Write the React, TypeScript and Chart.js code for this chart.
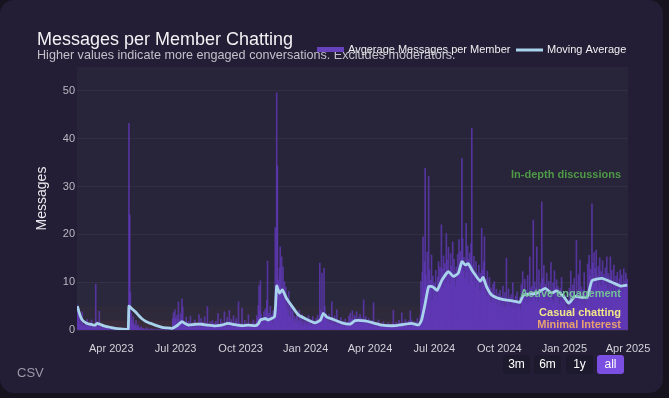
import React, { useEffect, useRef } from 'react';
import { Chart, registerables } from 'chart.js';
Chart.register(...registerables);

const FONT = '"Liberation Sans", Arial, Helvetica, sans-serif';

// x axis: day index, day 0 = 2023-02-12
const tickDays = [48, 139, 231, 323, 414, 505, 597, 689, 779];
const tickLabels = ['Apr 2023', 'Jul 2023', 'Oct 2023', 'Jan 2024', 'Apr 2024', 'Jul 2024', 'Oct 2024', 'Jan 2025', 'Apr 2025'];
const yTicks = [0, 10, 20, 30, 40, 50];

// engagement zones
const zoneFrom = [0, 2, 5, 10];
const zoneTo = [2, 5, 10, 55];
const zoneNames = ['Minimal Interest', 'Casual chatting', 'Active engagement', 'In-depth discussions'];
const zoneTextColors = ['#e9a26f', '#f2e68a', '#72bf98', '#4f9a47'];
const zoneFills = ['rgba(230,140,100,0.09)', 'rgba(230,215,120,0.045)', 'rgba(120,200,150,0.035)', 'rgba(100,170,90,0.015)'];

// daily average messages per member
const feb2023 = [5.2, 4.1, 3.0, 1.2, 2.5, 0.8, 1.5, 3.8, 0.6, 1.1, 0.9, 1.8, 0.5, 1.2, 2.2, 0.7, 1.0];
const mar2023 = [0.8, 1.5, 0.4, 2.1, 0.6, 1.0, 0.3, 0.9, 1.2, 9.6, 1.8, 0.7, 0.5, 1.1, 3.9, 0.4, 0.8, 0.2, 0.6, 1.0, 0.3, 0.5, 0.2, 0.7, 0.4, 0.3, 0.6, 0.2, 0.4, 0.1, 0.3];
const apr2023 = [0.2, 0, 0.3, 0.1, 0, 0.4, 0, 0.2, 0, 0.1, 0.3, 0, 0, 0.2, 0, 0.1, 0, 0, 0.3, 0, 0.1, 0, 0, 0.2, 0, 43.2, 24.1, 7.8, 3.5, 2.1];
const may2023 = [1.5, 2.8, 0.9, 1.2, 0.6, 2.0, 0.4, 0.8, 1.1, 0.3, 0.5, 0.2, 0.7, 0.1, 0.4, 0, 0.3, 0.2, 0, 0.1, 0.5, 0, 0.2, 0, 0.1, 0, 0.3, 0, 0, 0.2, 0];
const jun2023 = [0, 0.1, 0, 0, 0.2, 0, 0, 0.1, 0, 0, 0.3, 0, 0, 0, 0.1, 0, 0, 0.2, 0, 0, 0, 0.1, 0, 0, 0.4, 0.2, 2.4, 3.6, 1.8, 4.2];
const jul2023 = [2.5, 1.2, 3.1, 0.8, 5.9, 2.2, 1.0, 3.4, 1.5, 6.5, 4.8, 2.0, 0.9, 1.4, 0.6, 2.7, 1.1, 0.5, 1.8, 0.7, 1.3, 2.9, 0.6, 1.0, 0.4, 1.5, 0.8, 2.1, 0.5, 1.2, 0.9];
const aug2023 = [1.4, 0.7, 3.2, 1.1, 0.5, 2.4, 0.9, 1.6, 0.4, 1.0, 2.8, 0.6, 1.3, 0.8, 4.9, 1.2, 0.5, 0.9, 1.7, 0.3, 1.1, 2.0, 0.7, 1.4, 0.6, 0.9, 1.8, 0.4, 1.2, 3.5, 0.8];
const sep2023 = [1.0, 0.6, 2.3, 0.9, 1.5, 0.4, 1.2, 3.8, 0.7, 1.1, 0.5, 2.6, 1.3, 0.8, 4.1, 1.7, 0.9, 2.2, 0.6, 1.4, 3.0, 1.0, 0.5, 1.8, 2.4, 1.2, 0.7, 5.9, 1.5, 0.9];
const oct2023 = [0.8, 1.3, 4.6, 0.6, 1.1, 0.9, 2.0, 0.5, 1.4, 0.7, 1.0, 3.2, 0.6, 1.2, 0.8, 0.4, 1.5, 0.9, 2.1, 0.7, 1.1, 0.5, 1.6, 3.0, 2.4, 5.1, 9.3, 4.0, 10.3, 3.3, 2.5];
const nov2023 = [2.2, 1.5, 3.8, 2.0, 4.4, 1.7, 6.2, 14.4, 2.9, 3.5, 1.8, 5.0, 2.6, 3.1, 1.4, 4.0, 2.3, 3.6, 21.4, 8.0, 49.6, 34.3, 10.5, 9.6, 13.0, 17.4, 8.2, 15.3, 6.5, 13.2];
const dec2023 = [7.5, 10.1, 5.8, 9.0, 4.6, 6.3, 3.2, 8.1, 2.7, 4.9, 5.5, 2.3, 3.8, 4.9, 1.9, 3.0, 2.4, 1.5, 2.8, 3.6, 1.2, 2.0, 4.1, 1.6, 2.5, 1.0, 3.3, 1.7, 0.9, 2.2, 1.4];
const jan2024 = [1.8, 0.9, 2.5, 1.2, 3.0, 0.8, 1.6, 2.2, 1.1, 0.7, 2.8, 1.4, 0.9, 1.9, 1.3, 2.4, 1.0, 3.1, 1.5, 2.0, 14.0, 4.2, 3.0, 11.9, 3.6, 2.5, 12.9, 5.0, 2.8, 3.4, 2.1];
const feb2024 = [2.4, 1.6, 3.3, 1.9, 1.2, 2.7, 5.9, 1.5, 2.2, 1.0, 3.0, 1.4, 0.8, 4.2, 1.7, 1.1, 2.0, 0.9, 1.5, 2.6, 1.0, 0.7, 1.8, 1.2, 0.6, 2.3, 1.3, 0.9, 1.6];
const mar2024 = [1.1, 2.9, 1.8, 3.5, 2.4, 1.6, 4.0, 2.2, 1.3, 3.1, 2.6, 1.5, 3.8, 2.0, 1.2, 2.7, 1.9, 3.3, 1.4, 2.5, 1.7, 0.9, 6.3, 2.1, 1.6, 2.8, 1.3, 2.0, 1.0, 2.4, 1.5];
const apr2024 = [1.2, 0.8, 2.0, 1.5, 0.6, 5.7, 1.1, 0.7, 1.6, 0.9, 1.3, 0.5, 2.1, 0.8, 1.0, 0.6, 1.4, 0.4, 0.9, 1.7, 0.7, 1.0, 0.5, 1.2, 0.8, 0.6, 1.5, 0.9, 0.4, 1.1];
const may2024 = [1.0, 0.7, 1.3, 4.1, 0.8, 1.2, 0.5, 1.6, 0.9, 1.1, 0.6, 2.0, 0.8, 1.4, 0.7, 3.6, 1.0, 1.5, 0.9, 1.2, 2.2, 0.8, 1.7, 1.1, 0.6, 1.9, 1.3, 4.0, 1.5, 2.1, 1.0];
const jun2024 = [1.3, 0.9, 1.8, 1.1, 0.7, 1.5, 2.4, 1.0, 0.8, 1.6, 3.1, 10.1, 6.5, 12.0, 19.5, 8.4, 14.2, 33.8, 11.5, 9.0, 16.3, 7.8, 32.1, 12.6, 8.9, 10.4, 15.7, 6.2, 11.3, 9.5];
const jul2024 = [9.8, 7.2, 12.5, 8.6, 6.9, 11.0, 14.3, 9.4, 13.1, 10.2, 22.0, 12.8, 8.7, 15.5, 11.6, 13.9, 9.8, 20.2, 14.6, 10.7, 17.3, 12.1, 9.5, 16.0, 13.4, 11.2, 18.4, 10.3, 14.8, 12.0, 9.1];
const aug2024 = [13.2, 10.4, 15.8, 11.7, 18.9, 12.5, 16.4, 14.0, 35.9, 19.1, 12.3, 15.2, 10.8, 13.7, 22.3, 11.9, 17.6, 14.8, 9.6, 16.1, 12.4, 18.0, 42.2, 13.5, 10.2, 15.4, 11.1, 8.9, 14.3, 12.0, 10.5];
const sep2024 = [9.8, 13.6, 8.4, 11.9, 7.7, 21.3, 12.6, 9.1, 14.2, 19.5, 8.0, 10.7, 6.9, 12.3, 7.5, 9.4, 11.0, 6.2, 8.8, 5.7, 7.9, 9.6, 6.4, 10.1, 5.9, 7.3, 8.5, 5.2, 6.8, 7.6];
const oct2024 = [6.1, 8.3, 5.4, 7.0, 4.8, 9.2, 6.6, 5.1, 7.8, 4.5, 15.0, 6.3, 5.7, 8.6, 4.9, 6.8, 5.3, 7.4, 4.6, 9.9, 5.8, 6.2, 4.4, 7.1, 5.5, 8.0, 4.7, 6.0, 5.2, 6.9, 4.3];
const nov2024 = [9.5, 6.4, 12.2, 7.1, 5.8, 10.6, 6.9, 8.3, 5.6, 11.4, 7.0, 6.1, 15.3, 8.7, 5.9, 9.2, 6.6, 23.0, 7.4, 10.1, 6.3, 8.9, 17.4, 7.8, 5.7, 12.6, 8.2, 6.8, 9.7, 26.8];
const dec2024 = [10.8, 7.3, 13.5, 8.1, 9.6, 6.7, 11.9, 7.5, 5.9, 10.2, 6.8, 8.4, 14.1, 7.0, 6.2, 9.8, 5.6, 12.4, 8.8, 7.2, 10.5, 6.4, 9.1, 7.7, 5.4, 8.6, 6.1, 11.0, 5.8, 7.4, 6.5];
const jan2025 = [6.0, 4.8, 7.2, 5.1, 3.9, 6.4, 4.5, 8.7, 5.6, 12.3, 7.9, 6.2, 9.4, 5.3, 10.8, 7.1, 6.5, 18.8, 8.2, 5.9, 11.6, 7.4, 14.6, 6.3, 9.0, 5.5, 8.4, 6.8, 12.0, 5.2, 7.7];
const feb2025 = [7.9, 6.4, 13.8, 9.1, 15.6, 11.2, 12.7, 8.8, 26.4, 14.0, 10.5, 16.2, 9.7, 12.9, 16.7, 11.4, 8.6, 13.3, 10.0, 15.1, 9.4, 12.2, 8.9, 14.5, 10.8, 11.6, 9.2, 13.0];
const mar2025 = [9.6, 15.3, 8.4, 11.8, 7.9, 10.9, 15.3, 9.0, 12.5, 8.2, 10.4, 13.6, 7.7, 9.8, 11.2, 8.5, 12.1, 7.4, 9.9, 10.7, 12.6, 8.1, 11.5, 9.3, 7.8, 12.8, 8.8, 10.2, 11.9, 9.1, 10.6];

// moving average (read at key days)
const maDays = [0, 4, 7, 11, 15, 21, 25, 28, 32, 39, 47, 54, 61, 70, 72, 73, 76, 82, 91, 97, 106, 112, 120, 126, 134, 140, 148, 153, 157, 167, 176, 185, 195, 204, 213, 223, 233, 242, 252, 256, 259, 266, 270, 279, 282, 286, 290, 296, 304, 313, 325, 336, 344, 348, 353, 362, 374, 386, 393, 407, 421, 431, 450, 459, 473, 483, 487, 492, 497, 503, 509, 516, 525, 532, 539, 544, 549, 553, 558, 563, 570, 574, 579, 586, 596, 605, 619, 626, 631, 640, 650, 662, 671, 678, 688, 695, 704, 721, 728, 742, 756, 768, 778];
const maValues = [5.0, 3.0, 2.1, 1.6, 1.3, 1.1, 1.0, 1.4, 1.2, 0.8, 0.55, 0.35, 0.25, 0.15, 0.2, 5.0, 4.6, 3.8, 2.4, 1.8, 1.25, 0.9, 0.55, 0.45, 0.35, 0.8, 1.75, 1.3, 1.05, 1.2, 1.2, 1.0, 0.85, 1.0, 1.4, 1.1, 0.9, 1.0, 0.9, 1.3, 2.1, 2.4, 2.1, 2.8, 9.2, 7.7, 8.4, 6.6, 4.9, 3.1, 2.2, 1.5, 2.1, 3.5, 2.7, 2.2, 1.5, 1.25, 1.95, 1.9, 1.4, 1.0, 0.9, 1.1, 1.4, 1.05, 2.1, 5.5, 9.1, 9.0, 8.3, 10.5, 12.2, 11.2, 11.9, 14.3, 13.6, 13.9, 12.6, 11.5, 10.2, 11.0, 9.0, 7.3, 6.6, 6.3, 6.0, 5.8, 7.3, 7.5, 7.7, 8.7, 7.7, 8.2, 7.0, 5.6, 7.0, 6.8, 10.3, 10.8, 10.0, 9.2, 9.4];

const dailyValues = [
  ...feb2023, ...mar2023, ...apr2023, ...may2023, ...jun2023, ...jul2023, ...aug2023, ...sep2023, ...oct2023, ...nov2023, ...dec2023,
  ...jan2024, ...feb2024, ...mar2024, ...apr2024, ...may2024, ...jun2024, ...jul2024, ...aug2024, ...sep2024, ...oct2024, ...nov2024, ...dec2024,
  ...jan2025, ...feb2025, ...mar2025,
];

const decorPlugin = {
  id: 'decor',
  beforeDraw(chart: any) {
    const { ctx, chartArea, scales } = chart;
    const { left, right, top, bottom } = chartArea;
    ctx.save();
    ctx.fillStyle = 'rgba(255,255,255,0.025)';
    ctx.fillRect(left, top, right - left, bottom - top);
    zoneFrom.forEach((f, i) => {
      const y1 = scales.y.getPixelForValue(zoneTo[i]);
      const y0 = scales.y.getPixelForValue(f);
      ctx.fillStyle = zoneFills[i];
      ctx.fillRect(left, y1, right - left, y0 - y1);
    });
    ctx.restore();
  },
  afterDatasetsDraw(chart: any) {
    const { ctx, chartArea, scales } = chart;
    ctx.save();
    ctx.font = `bold 11px ${FONT}`;
    ctx.textAlign = 'right';
    ctx.textBaseline = 'middle';
    zoneNames.forEach((n, i) => {
      ctx.fillStyle = zoneTextColors[i];
      ctx.fillText(n, chartArea.right - 7, scales.y.getPixelForValue((zoneFrom[i] + zoneTo[i]) / 2));
    });
    ctx.restore();
  },
  afterDraw(chart: any) {
    const { ctx, chartArea } = chart;
    ctx.save();
    ctx.textAlign = 'left';
    ctx.textBaseline = 'alphabetic';
    ctx.fillStyle = '#f2f2f4';
    ctx.font = `18px ${FONT}`;
    ctx.fillText('Messages per Member Chatting', 37, 45);
    ctx.fillStyle = '#c2c1ca';
    ctx.font = `12.6px ${FONT}`;
    ctx.fillText('Higher values indicate more engaged conversations. Excludes moderators.', 37, 59);
    // legend
    ctx.fillStyle = '#6642bc';
    ctx.fillRect(317, 47, 27, 5);
    ctx.fillStyle = '#f0f0f2';
    ctx.font = `11px ${FONT}`;
    ctx.textBaseline = 'middle';
    ctx.fillText('Avgerage Messages per Member', 348, 50);
    ctx.strokeStyle = '#a9d3ec';
    ctx.lineWidth = 3;
    ctx.beginPath();
    ctx.moveTo(516, 50);
    ctx.lineTo(543, 50);
    ctx.stroke();
    ctx.fillText('Moving Average', 547, 50);
    // y title
    ctx.translate(42, (chartArea.top + chartArea.bottom) / 2);
    ctx.rotate(-Math.PI / 2);
    ctx.textAlign = 'center';
    ctx.font = `14px ${FONT}`;
    ctx.fillStyle = '#e8e8ec';
    ctx.fillText('Messages', 0, 0);
    ctx.restore();
  },
};

export default function App() {
  const ref = useRef<HTMLCanvasElement>(null);
  useEffect(() => {
    const chart = new Chart(ref.current as HTMLCanvasElement, {
      type: 'bar',
      data: {
        datasets: [
          {
            type: 'line',
            label: 'Moving Average',
            data: maDays.map((d, i) => ({ x: d, y: maValues[i] })),
            borderColor: '#a9d3ec',
            borderWidth: 2.8,
            pointRadius: 0,
            tension: 0.15,
            order: 1,
          } as any,
          {
            type: 'bar',
            label: 'Avgerage Messages per Member',
            data: dailyValues.map((v, i) => ({ x: i, y: v })),
            backgroundColor: 'rgba(98,58,188,0.76)',
            borderWidth: 0,
            barThickness: 1,
            order: 2,
          } as any,
        ],
      },
      options: {
        responsive: false,
        animation: false,
        events: [],
        layout: { padding: { left: 0, right: 35, top: 67, bottom: 0 } },
        plugins: { legend: { display: false }, tooltip: { enabled: false } },
        scales: {
          x: {
            type: 'linear',
            min: -0.5,
            max: 779,
            offset: false,
            afterBuildTicks: (s: any) => { s.ticks = tickDays.map((v) => ({ value: v })); },
            afterFit: (s: any) => { s.height = 63; },
            ticks: {
              autoSkip: false,
              maxRotation: 0,
              color: '#d2d2d8',
              font: { size: 11, family: FONT },
              padding: 4,
              callback: (_v: any, i: number) => tickLabels[i],
            },
            grid: { display: false, offset: false },
            border: { display: false },
          },
          y: {
            min: 0,
            max: 55,
            afterBuildTicks: (s: any) => { s.ticks = yTicks.map((v) => ({ value: v })); },
            afterFit: (s: any) => { s.width = 77; },
            ticks: { color: '#b9b9c2', font: { size: 11, family: FONT }, padding: 2 },
            grid: { color: 'rgba(255,255,255,0.05)', drawTicks: false },
            border: { display: false },
          },
        },
      } as any,
      plugins: [decorPlugin],
    });
    return () => chart.destroy();
  }, []);

  const btn = (label: string, left: number, width: number, active = false) => (
    <div
      key={label}
      style={{
        position: 'absolute', left, top: 355, width, height: 19, borderRadius: 3,
        background: active ? '#7b4fe1' : 'rgba(0,0,0,0.13)', color: '#ffffff',
        fontSize: 12, lineHeight: '19px', textAlign: 'center', fontFamily: FONT,
      }}
    >{label}</div>
  );

  return (
    <div style={{ position: 'fixed', left: 0, top: 0, right: 0, bottom: 0, background: '#16131e' }}>
      <div style={{ position: 'absolute', left: 0, top: 0, width: 663, height: 393, background: '#231e35', borderRadius: 14, overflow: 'hidden' }}>
        <canvas ref={ref} width={663} height={393} style={{ position: 'absolute', left: 0, top: 0, width: 663, height: 393 }} />
        {btn('3m', 503, 27)}
        {btn('6m', 534, 27)}
        {btn('1y', 566, 27)}
        {btn('all', 597, 27, true)}
        <div style={{ position: 'absolute', left: 17, top: 365, fontSize: 13, color: '#9b99a6', fontFamily: FONT }}>CSV</div>
      </div>
    </div>
  );
}
